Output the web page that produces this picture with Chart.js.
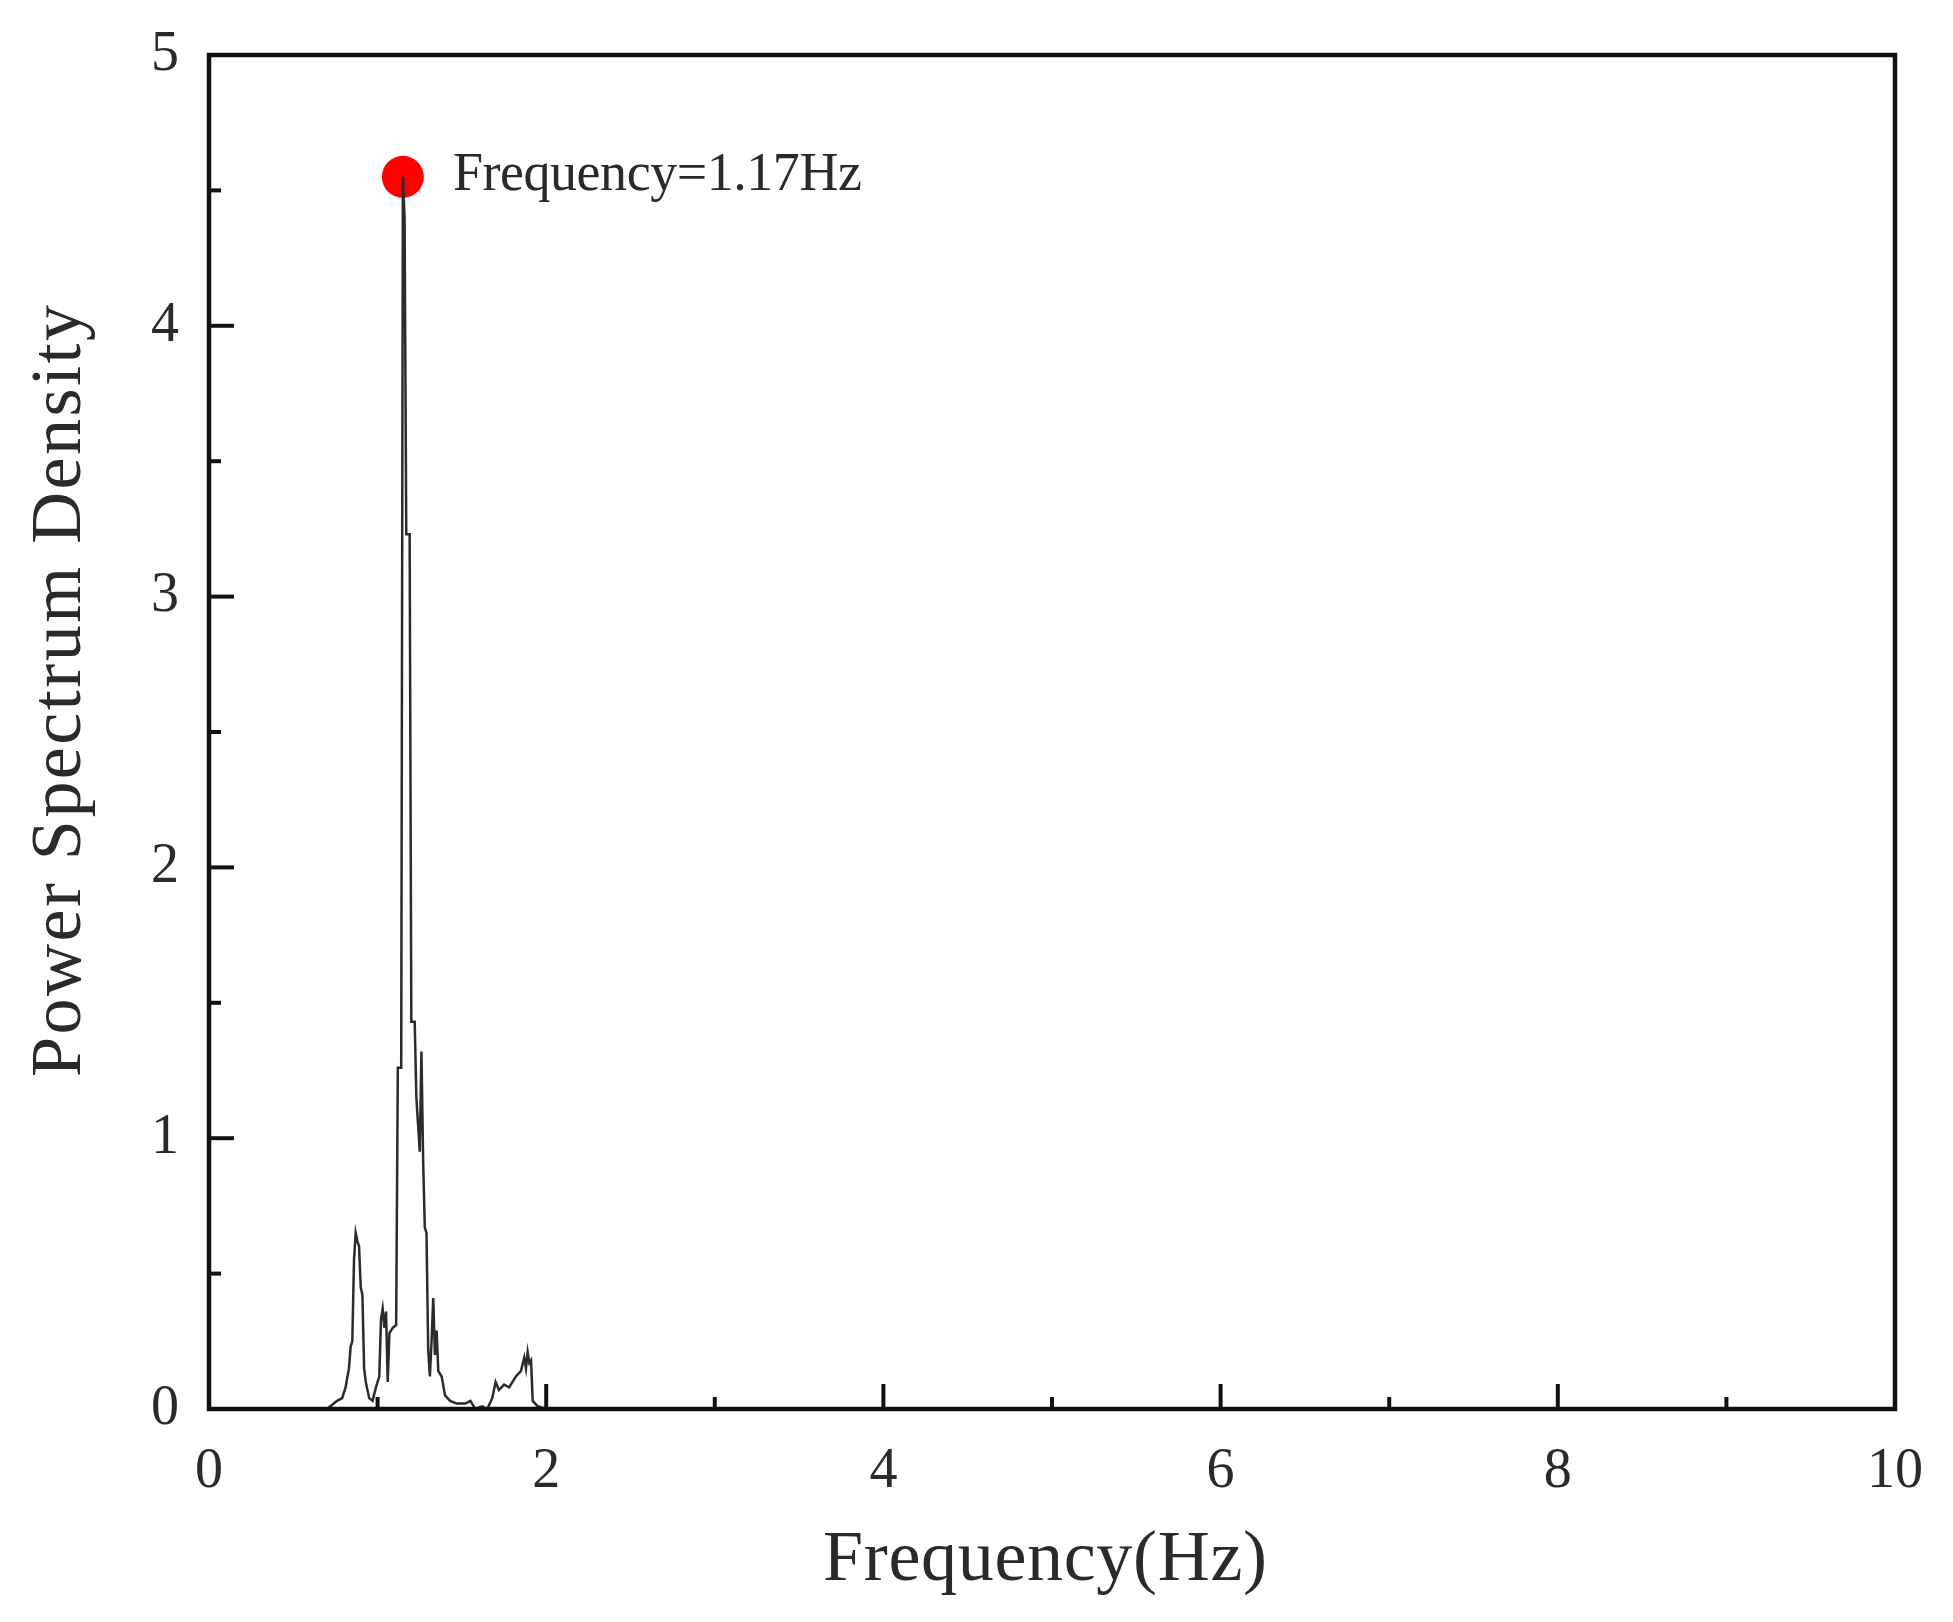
<!DOCTYPE html>
<html>
<head>
<meta charset="utf-8">
<title>Power Spectrum Density</title>
<script src="https://cdn.jsdelivr.net/npm/chart.js@4.4.1/dist/chart.umd.min.js"></script>
<style>
  html, body { margin: 0; padding: 0; background: #fff; }
  canvas { display: block; }
</style>
</head>
<body>
<canvas id="psdChart" width="1953" height="1622"></canvas>
<script>
'use strict';

/* ── 데이터 ─────────────────────────── */
const freqHz = [
  0.00, 0.70, 0.72, 0.76, 0.79, 0.81, 0.83, 0.84, 0.85, 0.86,
  0.87, 0.88, 0.89, 0.90, 0.91, 0.92, 0.93, 0.95, 0.97, 0.99,
  1.01, 1.02, 1.03, 1.04, 1.05, 1.06, 1.07, 1.09, 1.11, 1.12,
  1.14, 1.15, 1.16, 1.17, 1.19, 1.20, 1.22, 1.23, 1.25, 1.26,
  1.27, 1.28, 1.29, 1.30, 1.31, 1.32, 1.33, 1.34, 1.35, 1.36,
  1.38, 1.40, 1.43, 1.47, 1.52, 1.55, 1.58, 1.62, 1.65, 1.68,
  1.70, 1.72, 1.75, 1.78, 1.82, 1.85, 1.87, 1.88, 1.89, 1.90,
  1.91, 1.92, 1.95, 2.00, 10.0,
];
const psd = [
  0.00, 0.00, 0.01, 0.03, 0.04, 0.08, 0.15, 0.23, 0.25, 0.55,
  0.65, 0.62, 0.60, 0.45, 0.42, 0.15, 0.10, 0.04, 0.03, 0.08,
  0.12, 0.33, 0.37, 0.30, 0.36, 0.10, 0.28, 0.30, 0.31, 1.26,
  1.26, 4.55, 4.40, 3.23, 3.23, 1.43, 1.43, 1.15, 0.95, 1.32,
  0.92, 0.67, 0.65, 0.22, 0.12, 0.25, 0.41, 0.20, 0.29, 0.14,
  0.12, 0.05, 0.03, 0.02, 0.02, 0.03, 0.00, 0.01, 0.00, 0.04,
  0.10, 0.07, 0.09, 0.08, 0.12, 0.14, 0.19, 0.15, 0.21, 0.17,
  0.18, 0.03, 0.01, 0.00, 0.00,
];

const peakFreq  = 1.15;
const peakPsd   = 4.55;
const peakLabel = 'Frequency=1.17Hz';

const xTickValues  = [0, 2, 4, 6, 8, 10];
const xMinorValues = [1, 3, 5, 7, 9];
const yTickValues  = [0, 1, 2, 3, 4, 5];
const yMinorValues = [0.5, 1.5, 2.5, 3.5, 4.5];

const xTitle = 'Frequency(Hz)';
const yTitle = 'Power Spectrum Density';

/* ── 유틸 ─────────────────────────────────── */
const SERIF = '"Liberation Serif", "DejaVu Serif", serif';
const INK   = '#2a2a2a';

// 글자 사이 간격을 넓힌 텍스트 (원본의 반각 글꼴 느낌)
function spacingFor(ctx, text, targetWidth) {
  let natural = 0;
  for (const ch of text) natural += ctx.measureText(ch).width;
  return (targetWidth - natural) / (text.length - 1);
}
function drawSpaced(ctx, text, x, y, spacing) {
  for (const ch of text) {
    ctx.fillText(ch, x, y);
    x += ctx.measureText(ch).width + spacing;
  }
}

/* ── 테두리 + 안쪽 눈금 ───────────────────── */
const frameTicks = {
  id: 'frameTicks',
  afterDraw(chart) {
    const { ctx, chartArea: a, scales: { x, y } } = chart;
    ctx.save();
    ctx.strokeStyle = '#111';
    ctx.lineWidth = 4;
    ctx.lineCap = 'butt';

    const tickX = (v, len) => {
      const px = x.getPixelForValue(v);
      ctx.beginPath(); ctx.moveTo(px, a.bottom); ctx.lineTo(px, a.bottom - len); ctx.stroke();
    };
    const tickY = (v, len) => {
      const py = y.getPixelForValue(v);
      ctx.beginPath(); ctx.moveTo(a.left, py); ctx.lineTo(a.left + len, py); ctx.stroke();
    };
    xTickValues.forEach(v => tickX(v, 25));
    xMinorValues.forEach(v => tickX(v, 12));
    yTickValues.forEach(v => tickY(v, 25));
    yMinorValues.forEach(v => tickY(v, 12));

    ctx.lineWidth = 4.5;
    ctx.strokeRect(a.left, a.top, a.right - a.left, a.bottom - a.top);
    ctx.restore();
  },
};

/* ── 축 제목 + 피크 주석 ──────────────────── */
const textLayer = {
  id: 'textLayer',
  afterDraw(chart) {
    const { ctx, chartArea: a, scales: { x, y } } = chart;
    ctx.save();
    ctx.fillStyle = INK;
    ctx.textAlign = 'left';
    ctx.textBaseline = 'alphabetic';

    // x축 제목
    ctx.font = `72px ${SERIF}`;
    const xw = 444;
    const xcx = (a.left + a.right) / 2 - 7;
    drawSpaced(ctx, xTitle, xcx - xw / 2, 1580, spacingFor(ctx, xTitle, xw));

    // y축 제목 (세로)
    const yw = 772;
    ctx.translate(80, 691);
    ctx.rotate(-Math.PI / 2);
    drawSpaced(ctx, yTitle, -yw / 2, 0, spacingFor(ctx, yTitle, yw));
    ctx.setTransform(1, 0, 0, 1, 0, 0);

    // 피크 주석
    ctx.font = `54px ${SERIF}`;
    const px = x.getPixelForValue(peakFreq);
    const py = y.getPixelForValue(peakPsd);
    drawSpaced(ctx, peakLabel, px + 50, py + 13, spacingFor(ctx, peakLabel, 409));
    ctx.restore();
  },
};

/* ── 차트 ─────────────────────────────────── */
function buildChart() {
  const canvas = document.getElementById('psdChart');
  const spectrum = freqHz.map((f, i) => ({ x: f, y: psd[i] }));

  return new Chart(canvas.getContext('2d'), {
    type: 'line',
    data: {
      datasets: [
        {
          label: 'PSD',
          data: spectrum,
          borderColor: '#2b2b2b',
          borderWidth: 2.5,
          pointRadius: 0,
          tension: 0,
          fill: false,
        },
        {
          label: 'Peak',
          data: [{ x: peakFreq, y: peakPsd }],
          showLine: false,
          pointRadius: 21,
          pointHoverRadius: 21,
          pointBackgroundColor: '#ff0000',
          pointBorderColor: '#ff0000',
          pointBorderWidth: 0,
          clip: false,
        },
      ],
    },
    options: {
      responsive: false,
      animation: false,
      devicePixelRatio: 1,
      layout: { padding: { left: 0, top: 55, right: 58, bottom: 0 } },
      plugins: { legend: { display: false }, tooltip: { enabled: false } },
      scales: {
        x: {
          type: 'linear',
          min: 0, max: 10,
          grid: { display: false, drawTicks: false },
          border: { display: false },
          afterBuildTicks: s => { s.ticks = xTickValues.map(v => ({ value: v })); },
          afterFit: s => { s.height = 213; s.paddingLeft = 0; s.paddingRight = 0; },
          ticks: { padding: 30, color: INK, font: { family: SERIF, size: 56 }, maxRotation: 0 },
        },
        y: {
          type: 'linear',
          min: 0, max: 5,
          grid: { display: false, drawTicks: false },
          border: { display: false },
          afterBuildTicks: s => { s.ticks = yTickValues.map(v => ({ value: v })); },
          afterFit: s => { s.width = 209; s.paddingTop = 0; s.paddingBottom = 0; },
          ticks: { padding: 30, color: INK, font: { family: SERIF, size: 56 } },
        },
      },
    },
    plugins: [frameTicks, textLayer],
  });
}

document.addEventListener('DOMContentLoaded', buildChart);
</script>
</body>
</html>
